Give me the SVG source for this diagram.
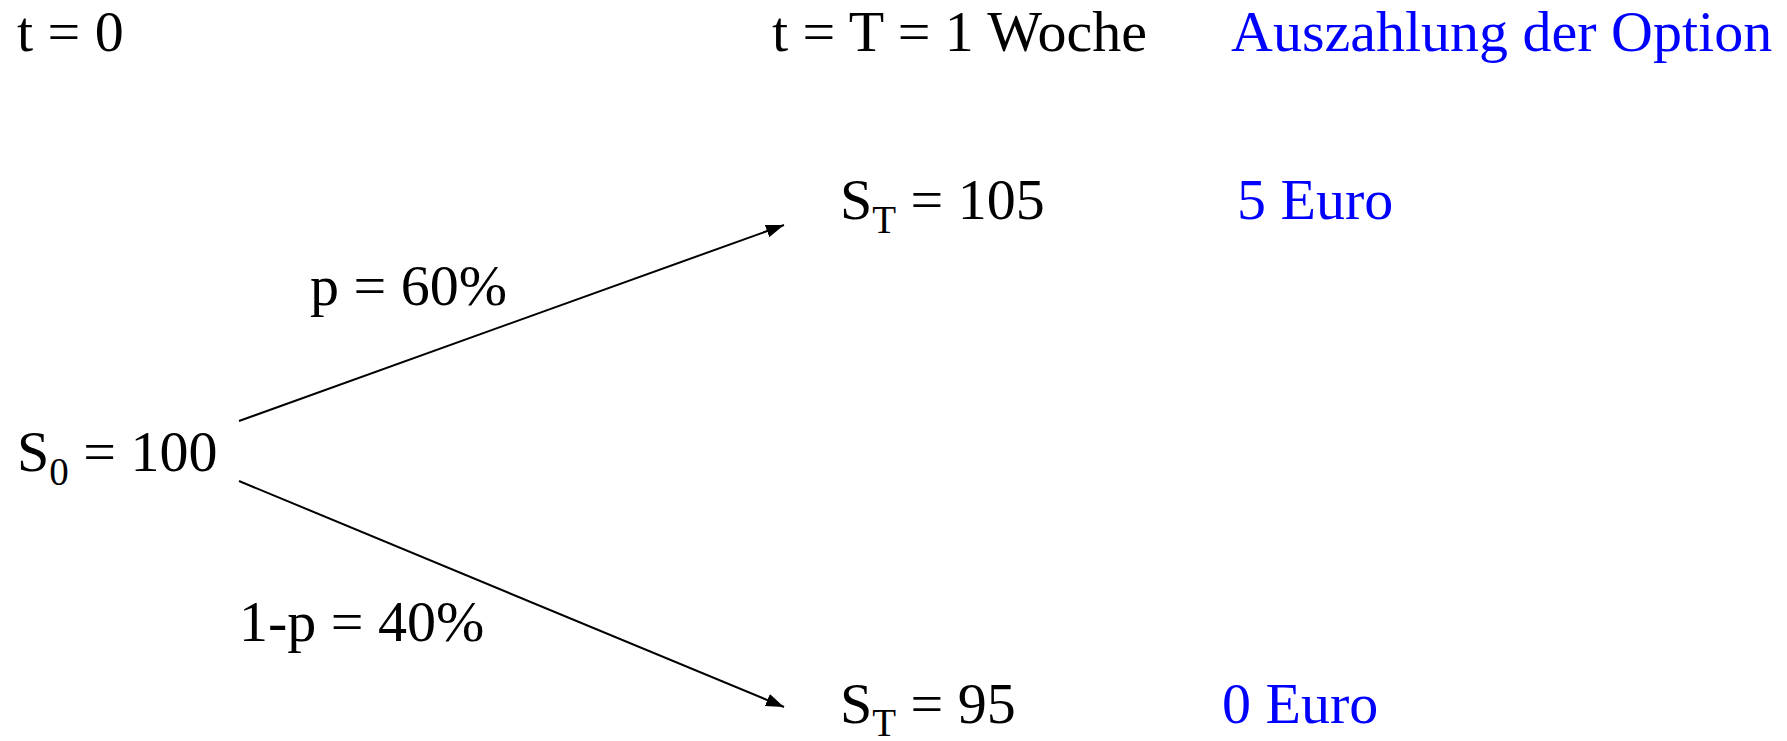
<svg xmlns="http://www.w3.org/2000/svg" width="1787" height="741" viewBox="0 0 1787 741">
<style>
text{font-family:"Liberation Serif","Times New Roman",serif;font-size:58px;fill:#000}
.b{fill:#0000FF}
.sub{font-size:39px}
.c{stroke:#000;stroke-width:2;fill:none}
</style>
<defs>
<marker id="ah" viewBox="0 0 10 10" refX="10" refY="5" markerWidth="18" markerHeight="13" markerUnits="userSpaceOnUse" orient="auto" preserveAspectRatio="none">
<path d="M0,0 L10,5 L0,10 Z" fill="#000"/>
</marker>
</defs>
<rect width="1787" height="741" fill="#fff"/>
<g id="header-t0"><text x="17" y="51">t = 0</text></g>
<g id="header-tT"><text x="772" y="51">t = T = 1 Woche</text></g>
<g id="header-payoff"><text class="b" x="1231" y="51">Auszahlung der Option</text></g>
<g id="node-s0"><text x="17" y="471">S<tspan class="sub" dy="14">0</tspan><tspan dy="-14"> = 100</tspan></text></g>
<g id="node-up"><text x="840" y="219">S<tspan class="sub" dy="14">T</tspan><tspan dy="-14"> = 105</tspan></text></g>
<g id="node-down"><text x="840" y="723">S<tspan class="sub" dy="13">T</tspan><tspan dy="-13"> = 95</tspan></text></g>
<g id="payoff-up"><text class="b" x="1237" y="219">5 Euro</text></g>
<g id="payoff-down"><text class="b" x="1222" y="723">0 Euro</text></g>
<g id="label-up"><text x="310" y="305">p = 60%</text></g>
<g id="label-down"><text x="239" y="641">1-p = 40%</text></g>
<g id="connectors">
<line class="c" x1="239" y1="421" x2="784" y2="225" marker-end="url(#ah)"/>
<line class="c" x1="239" y1="481" x2="784" y2="707" marker-end="url(#ah)"/>
</g>
</svg>
